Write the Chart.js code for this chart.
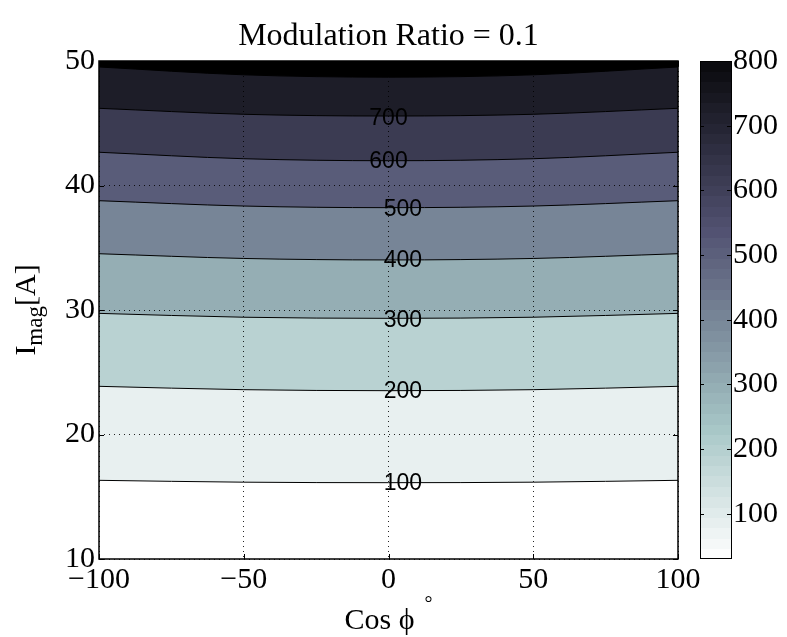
<!DOCTYPE html>
<html><head><meta charset="utf-8">
<script src="https://cdn.jsdelivr.net/npm/chart.js@4.4.1/dist/chart.umd.min.js"></script>
<style>html,body{margin:0;padding:0;background:#fff;}#wrap{position:relative;width:787px;height:637px;}</style>
</head><body><div id="wrap"><canvas id="c" width="787" height="637"></canvas></div>
<script>
// ---- data ----
const xValues = [-100, -50, 0, 50, 100];
const levels = [100, 200, 300, 400, 500, 600, 700, 800];
const line100 = [16.32, 16.17, 16.13, 16.17, 16.32];
const line200 = [23.87, 23.60, 23.52, 23.60, 23.87];
const line300 = [29.73, 29.42, 29.33, 29.42, 29.73];
const line400 = [34.52, 34.14, 34.02, 34.14, 34.52];
const line500 = [38.78, 38.35, 38.22, 38.35, 38.78];
const line600 = [42.67, 42.15, 41.99, 42.15, 42.67];
const line700 = [46.20, 45.72, 45.58, 45.72, 46.20];
const line800 = [49.52, 48.89, 48.70, 48.89, 49.52];
const labelText = ['100', '200', '300', '400', '500', '600', '700'];
const labelX = [5, 5, 5, 5, 5, 0, 0];
const labelY = [16.10, 23.49, 29.20, 34.02, 38.14, 41.97, 45.42];
const xTicks = [-100, -50, 0, 50, 100];
const yTicks = [10, 20, 30, 40, 50];
const cbTicks = [100, 200, 300, 400, 500, 600, 700, 800];
const cbMin = 30, cbMax = 800;
const titleText = 'Modulation Ratio = 0.1';

// ---- style ----
const bandColors = ['#e8f0f0', '#b9d2d2', '#95aeb4', '#778597', '#595c79', '#3b3b52', '#1d1d28', '#000000'];
const SERIF = '"Liberation Serif", "Times New Roman", serif';
const SANS = '"Liberation Sans", Arial, sans-serif';

function bone(x) {
  x = Math.max(0, Math.min(1, x));
  const f = pts => { for (let i = 1; i < pts.length; i++) { if (x <= pts[i][0]) { const [a, b] = pts[i - 1], [c, d] = pts[i]; return b + (d - b) * (x - a) / (c - a); } } return 1; };
  const r = f([[0, 0], [0.746032, 0.652778], [1, 1]]);
  const g = f([[0, 0], [0.365079, 0.319444], [0.746032, 0.777778], [1, 1]]);
  const b = f([[0, 0], [0.365079, 0.444444], [1, 1]]);
  return 'rgb(' + Math.round(r * 255) + ',' + Math.round(g * 255) + ',' + Math.round(b * 255) + ')';
}

const lines = [line100, line200, line300, line400, line500, line600, line700, line800];
const datasets = levels.map((lv, i) => ({
  label: String(lv),
  data: xValues.map((x, j) => ({ x: x, y: lines[i][j] })),
  borderColor: '#000',
  borderWidth: 1,
  pointRadius: 0,
  backgroundColor: bandColors[i],
  fill: 'end',
  cubicInterpolationMode: 'monotone',
  order: levels.length - i
}));

const fmt = v => (v < 0 ? '\u2212' + Math.abs(v) : String(v));

const decor = {
  id: 'decor',
  afterDraw(chart) {
    const ctx = chart.ctx, a = chart.chartArea;
    const xs = chart.scales.x, ys = chart.scales.y, cb = chart.scales.cb;
    ctx.save();
    // title
    ctx.fillStyle = '#000';
    ctx.font = '32px ' + SERIF;
    ctx.textAlign = 'center';
    ctx.textBaseline = 'alphabetic';
    ctx.fillText(titleText, (a.left + a.right) / 2, 45);
    // contour labels
    ctx.font = '23px ' + SANS;
    ctx.textBaseline = 'middle';
    labelText.forEach((t, i) => ctx.fillText(t, xs.getPixelForValue(labelX[i]), ys.getPixelForValue(labelY[i]) + 1));
    // inward ticks
    ctx.strokeStyle = '#000'; ctx.lineWidth = 1;
    ctx.beginPath();
    xTicks.forEach(v => { const px = Math.round(xs.getPixelForValue(v)) + 0.5; ctx.moveTo(px, a.bottom); ctx.lineTo(px, a.bottom - 5); ctx.moveTo(px, a.top); ctx.lineTo(px, a.top + 5); });
    yTicks.forEach(v => { const py = Math.round(ys.getPixelForValue(v)) + 0.5; ctx.moveTo(a.left, py); ctx.lineTo(a.left + 5, py); ctx.moveTo(a.right, py); ctx.lineTo(a.right - 5, py); });
    ctx.stroke();
    // frame
    ctx.lineWidth = 1.5;
    ctx.strokeRect(a.left, a.top, a.right - a.left, a.bottom - a.top);
    // colorbar
    const cbL = 700, cbR = 731;
    const N = 48, step = (cbMax - cbMin) / N;
    for (let k = 0; k < N; k++) {
      const v0 = cbMin + k * step, v1 = v0 + step, vm = (v0 + v1) / 2;
      ctx.fillStyle = bone((cbMax + 30 - vm) / (cbMax - cbMin + 30));
      const y0 = cb.getPixelForValue(v0), y1 = cb.getPixelForValue(v1);
      ctx.fillRect(cbL, Math.floor(y1), cbR - cbL, Math.ceil(y0) - Math.floor(y1));
    }
    ctx.beginPath();
    cbTicks.forEach(v => { const py = Math.round(cb.getPixelForValue(v)) + 0.5; ctx.moveTo(cbL, py); ctx.lineTo(cbL + 4, py); ctx.moveTo(cbR, py); ctx.lineTo(cbR - 4, py); });
    ctx.strokeStyle = '#000'; ctx.lineWidth = 1; ctx.stroke();
    ctx.strokeRect(cbL + 0.5, cb.top + 0.5, cbR - cbL, cb.bottom - cb.top - 1);
    // x axis title: Cos ϕ °
    ctx.fillStyle = '#000';
    ctx.textBaseline = 'alphabetic';
    ctx.textAlign = 'left';
    ctx.font = '30px ' + SERIF;
    const t1 = 'Cos \u03D5';
    const w1 = ctx.measureText(t1).width;
    ctx.font = '20px ' + SERIF;
    const w2 = ctx.measureText('\u00B0').width;
    const gap = 10;
    const cx = (a.left + a.right) / 2;
    let sx = cx - (w1 + gap + w2) / 2;
    ctx.font = '30px ' + SERIF;
    ctx.fillText(t1, sx, 629);
    ctx.font = '20px ' + SERIF;
    ctx.fillText('\u00B0', sx + w1 + gap, 610);
    // y axis title: I_mag[A]
    ctx.save();
    ctx.translate(35, (a.top + a.bottom) / 2);
    ctx.rotate(-Math.PI / 2);
    ctx.font = '30px ' + SERIF;
    const wI = ctx.measureText('I').width, wA = ctx.measureText('[A]').width;
    ctx.font = '23px ' + SERIF;
    const wm = ctx.measureText('mag').width;
    let px = -(wI + wm + wA) / 2;
    ctx.font = '30px ' + SERIF;
    ctx.fillText('I', px, 0);
    ctx.font = '23px ' + SERIF;
    ctx.fillText('mag', px + wI, 7);
    ctx.font = '30px ' + SERIF;
    ctx.fillText('[A]', px + wI + wm, 0);
    ctx.restore();
    ctx.restore();
  }
};

new Chart(document.getElementById('c'), {
  type: 'line',
  data: { datasets: datasets },
  options: {
    responsive: false,
    animation: false,
    devicePixelRatio: 1,
    events: [],
    layout: { padding: { top: 61, left: 0, right: 0, bottom: 0 } },
    plugins: {
      legend: { display: false },
      tooltip: { enabled: false },
      title: { display: false }
    },
    scales: {
      x: {
        type: 'linear', min: -100, max: 100,
        afterBuildTicks: s => { s.ticks = xTicks.map(v => ({ value: v })); },
        afterFit: s => { s.height = 78; },
        ticks: { callback: v => fmt(v), color: '#000', font: { family: SERIF, size: 30 }, padding: 3, maxRotation: 0, autoSkip: false },
        grid: { color: 'rgba(0,0,0,0.85)', lineWidth: 1, drawTicks: false, z: 1 },
        border: { display: false, dash: [1, 4] }
      },
      y: {
        type: 'linear', min: 10, max: 50,
        afterBuildTicks: s => { s.ticks = yTicks.map(v => ({ value: v })); },
        afterFit: s => { s.width = 99; },
        ticks: { callback: v => fmt(v), color: '#000', font: { family: SERIF, size: 30 }, padding: 4, autoSkip: false },
        grid: { color: 'rgba(0,0,0,0.85)', lineWidth: 1, drawTicks: false, z: 1 },
        border: { display: false, dash: [1, 4] }
      },
      cb: {
        type: 'linear', position: 'right', min: cbMin, max: cbMax,
        afterBuildTicks: s => { s.ticks = cbTicks.map(v => ({ value: v })); },
        afterFit: s => { s.width = 109; s.paddingTop = 18; s.paddingBottom = 18; },
        ticks: { callback: v => fmt(v), color: '#000', font: { family: SERIF, size: 30 }, padding: 55, autoSkip: false },
        grid: { display: false, drawTicks: false },
        border: { display: false }
      }
    }
  },
  plugins: [decor]
});
</script>
</body></html>
